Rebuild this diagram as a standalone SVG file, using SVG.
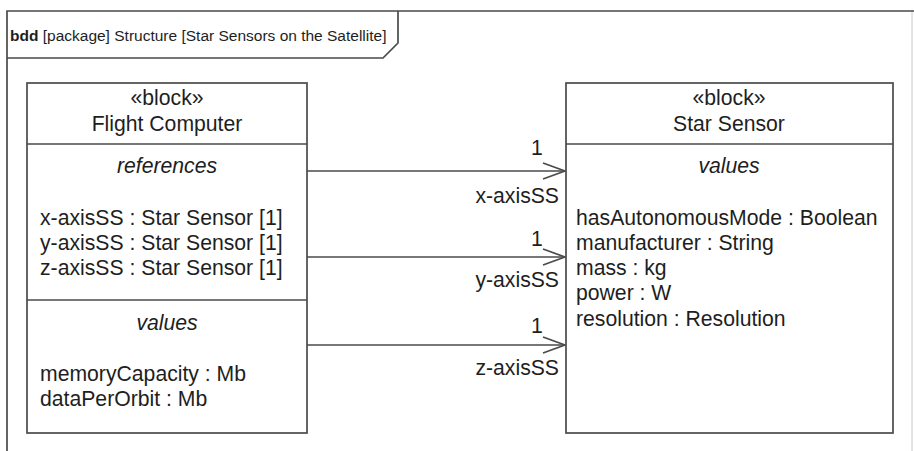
<svg xmlns="http://www.w3.org/2000/svg" width="914" height="451" viewBox="0 0 914 451">
<defs>
<style>
text{font-family:"Liberation Sans",Arial,sans-serif;font-size:21.2px;fill:#1e1e1e}
.t{font-size:15.5px}
.c{text-anchor:middle}
.r{text-anchor:end}
.i{font-style:italic}
.b{font-weight:bold}
.box{fill:#fff;stroke:#4a4a4a;stroke-width:1.7}
.ln{stroke:#4a4a4a;stroke-width:1.7;fill:none}
</style>
<marker id="open" viewBox="0 0 24 18" refX="23" refY="9" markerWidth="24" markerHeight="18" markerUnits="userSpaceOnUse" orient="auto">
<path d="M1,1 L23,9 L1,17" fill="none" stroke="#4a4a4a" stroke-width="1.7"/>
</marker>
</defs>
<rect width="914" height="451" fill="#fff"/>
<g id="frame">
<path d="M912,11 V460" stroke="#c8c8c8" stroke-width="1" fill="none"/>
<path class="ln" d="M7,460 V11 H914" stroke="#2a2a2a" stroke-width="2"/>
<path class="ln" d="M7,58 H383 L398,43 V11"/>
<text class="t" x="10" y="41"><tspan class="b">bdd</tspan> [package] Structure [Star Sensors on the Satellite]</text>
</g>
<g id="flight-computer">
<rect class="box" x="27" y="83" width="280" height="350"/>
<line class="ln" x1="27" y1="144" x2="307" y2="144"/>
<line class="ln" x1="27" y1="300" x2="307" y2="300"/>
<text class="c" x="167" y="105">«block»</text>
<text class="c" x="167" y="131">Flight Computer</text>
<text class="c i" x="167" y="173">references</text>
<text x="40" y="225">x-axisSS : Star Sensor [1]</text>
<text x="40" y="250">y-axisSS : Star Sensor [1]</text>
<text x="40" y="275">z-axisSS : Star Sensor [1]</text>
<text class="c i" x="167" y="330">values</text>
<text x="40" y="381">memoryCapacity : Mb</text>
<text x="40" y="406">dataPerOrbit : Mb</text>
</g>
<g id="star-sensor">
<rect class="box" x="566" y="83" width="327" height="350"/>
<line class="ln" x1="566" y1="144" x2="893" y2="144"/>
<text class="c" x="729" y="105">«block»</text>
<text class="c" x="729" y="131">Star Sensor</text>
<text class="c i" x="729" y="173">values</text>
<text x="576" y="225">hasAutonomousMode : Boolean</text>
<text x="576" y="250">manufacturer : String</text>
<text x="576" y="275">mass : kg</text>
<text x="576" y="300">power : W</text>
<text x="576" y="326">resolution : Resolution</text>
</g>
<g id="connectors">
<line class="ln" x1="307" y1="171" x2="565" y2="171" marker-end="url(#open)"/>
<line class="ln" x1="307" y1="257" x2="565" y2="257" marker-end="url(#open)"/>
<line class="ln" x1="307" y1="345" x2="565" y2="345" marker-end="url(#open)"/>
<text x="531" y="155">1</text>
<text class="r" x="559" y="203">x-axisSS</text>
<text x="531" y="246">1</text>
<text class="r" x="559" y="287">y-axisSS</text>
<text x="531" y="333">1</text>
<text class="r" x="559" y="375">z-axisSS</text>
</g>
</svg>
